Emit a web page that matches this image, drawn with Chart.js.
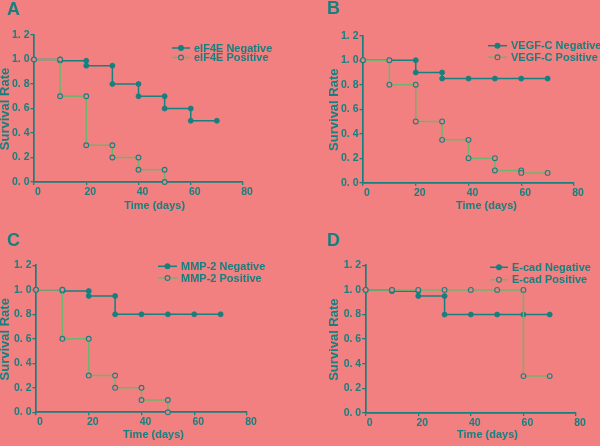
<!DOCTYPE html>
<html><head><meta charset="utf-8">
<script src="https://cdn.jsdelivr.net/npm/chart.js@4.4.0/dist/chart.umd.min.js"></script>
<style>
html,body{margin:0;padding:0;background:#F38080;}
#wrap{position:relative;width:600px;height:446px;overflow:hidden;background:#F38080;}
.panel{position:absolute;width:300px;height:223px;}
</style></head><body>
<div id="wrap">
<div class="panel" style="left:0;top:0"><canvas id="c0"></canvas></div>
<div class="panel" style="left:300px;top:0"><canvas id="c1"></canvas></div>
<div class="panel" style="left:0;top:223px"><canvas id="c2"></canvas></div>
<div class="panel" style="left:300px;top:223px"><canvas id="c3"></canvas></div>
</div>
<script>
// ---- data ----
const panelLetters = ['A', 'B', 'C', 'D'];
const negLabels = ['eIF4E Negative', 'VEGF-C Negative', 'MMP-2 Negative', 'E-cad Negative'];
const posLabels = ['eIF4E Positive', 'VEGF-C Positive', 'MMP-2 Positive', 'E-cad Positive'];
const xTitle = 'Time (days)';
const yTitle = 'Survival Rate';
const xTickValues = [0, 20, 40, 60, 80];
const xTickLabels = ['0', '20', '40', '60', '80'];
const yTickValues = [0, 0.2, 0.4, 0.6, 0.8, 1.0, 1.2];
const yTickLabels = ['0. 0', '0. 2', '0. 4', '0. 6', '0. 8', '1. 0', '1. 2'];

const timeNegA = [0, 10, 10, 20, 20, 30, 30, 40, 40, 50, 50, 60, 60, 70];
const survNegA = [1, 1, 0.99, 0.99, 0.95, 0.95, 0.8, 0.8, 0.7, 0.7, 0.6, 0.6, 0.5, 0.5];
const timePosA = [0, 10, 10, 20, 20, 30, 30, 40, 40, 50, 50];
const survPosA = [1, 1, 0.7, 0.7, 0.3, 0.3, 0.2, 0.2, 0.1, 0.1, 0];

const timeNegB = [0, 10, 20, 20, 30, 30, 40, 50, 60, 70];
const survNegB = [1, 1, 1, 0.9, 0.9, 0.85, 0.85, 0.85, 0.85, 0.85];
const timePosB = [0, 10, 10, 20, 20, 30, 30, 40, 40, 50, 50, 60, 60, 70];
const survPosB = [1, 1, 0.8, 0.8, 0.5, 0.5, 0.35, 0.35, 0.2, 0.2, 0.1, 0.1, 0.08, 0.08];

const timeNegC = [0, 10, 10, 20, 20, 30, 30, 40, 50, 60, 70];
const survNegC = [1, 1, 0.99, 0.99, 0.95, 0.95, 0.8, 0.8, 0.8, 0.8, 0.8];
const timePosC = [0, 10, 10, 20, 20, 30, 30, 40, 40, 50, 50];
const survPosC = [1, 1, 0.6, 0.6, 0.3, 0.3, 0.2, 0.2, 0.1, 0.1, 0];

const timeNegD = [0, 10, 10, 20, 20, 30, 30, 40, 50, 60, 70];
const survNegD = [1, 1, 0.99, 0.99, 0.95, 0.95, 0.8, 0.8, 0.8, 0.8, 0.8];
const timePosD = [0, 10, 20, 30, 40, 50, 60, 60, 70];
const survPosD = [1, 1, 1, 1, 1, 1, 1, 0.3, 0.3];

const negSeries = [[timeNegA, survNegA], [timeNegB, survNegB], [timeNegC, survNegC], [timeNegD, survNegD]];
const posSeries = [[timePosA, survPosA], [timePosB, survPosB], [timePosC, survPosC], [timePosD, survPosD]];

// ---- styles / layout ----
const BG = '#F38080';
const TEAL = '#167F7F';
const GREEN = '#6FB46C';
const FONT = '"Liberation Sans", Arial, Helvetica, sans-serif';
const W = 300, H = 223;
const layouts = [
  {L: 34, R: 243, T: 35, B: 182, yTx: 5, xTx: 154.6, xTy: 205.5, lx1: 172, lx2: 190, ltx: 194, ly: [48, 57.5], letX: 7, letY: 15},
  {L: 63, R: 274, T: 35.7, B: 182.7, yTx: 34.5, xTx: 186.5, xTy: 205.5, lx1: 188, lx2: 207, ltx: 211, ly: [45.7, 57.3], letX: 27, letY: 14},
  {L: 36, R: 247, T: 42.3, B: 189.3, yTx: 5, xTx: 153.5, xTy: 212, lx1: 158, lx2: 177, ltx: 181, ly: [43.3, 55], letX: 7, letY: 23},
  {L: 65.7, R: 276, T: 42.3, B: 190, yTx: 34.5, xTx: 187.5, xTy: 212, lx1: 190, lx2: 208, ltx: 212, ly: [44.3, 56.7], letX: 27, letY: 23}
];

const decor = {
  id: 'decor',
  afterDraw(chart, args, o) {
    const ctx = chart.ctx;
    const ca = chart.chartArea;
    ctx.save();
    ctx.fillStyle = TEAL;
    ctx.font = 'bold 18px ' + FONT;
    ctx.textAlign = 'left';
    ctx.textBaseline = 'alphabetic';
    ctx.fillText(o.letter, o.lay.letX, o.lay.letY);
    // x title
    ctx.font = 'bold 11px ' + FONT;
    ctx.textAlign = 'center';
    ctx.textBaseline = 'middle';
    ctx.fillText(xTitle, o.lay.xTx, o.lay.xTy);
    // y title
    ctx.save();
    ctx.translate(o.lay.yTx, (ca.top + ca.bottom) / 2 + 0.5);
    ctx.rotate(-Math.PI / 2);
    ctx.font = 'bold 13px ' + FONT;
    ctx.fillText(yTitle, 0, 0);
    ctx.restore();
    // legend
    const items = [
      {label: o.neg, line: TEAL, fill: TEAL},
      {label: o.pos, line: GREEN, fill: BG}
    ];
    items.forEach((it, i) => {
      const y = o.lay.ly[i];
      ctx.strokeStyle = it.line;
      ctx.lineWidth = 1.5;
      ctx.beginPath();
      ctx.moveTo(o.lay.lx1, y);
      ctx.lineTo(o.lay.lx2, y);
      ctx.stroke();
      ctx.beginPath();
      ctx.arc((o.lay.lx1 + o.lay.lx2) / 2, y, 2.4, 0, Math.PI * 2);
      ctx.fillStyle = it.fill;
      ctx.fill();
      ctx.strokeStyle = TEAL;
      ctx.lineWidth = 1.1;
      ctx.stroke();
      ctx.fillStyle = TEAL;
      ctx.font = 'bold 11px ' + FONT;
      ctx.textAlign = 'left';
      ctx.textBaseline = 'middle';
      ctx.fillText(it.label, o.lay.ltx, y + 0.5);
    });
    ctx.restore();
  }
};

function toPts(s) { return s[0].map((t, i) => ({x: t, y: s[1][i]})); }

for (let p = 0; p < 4; p++) {
  const lay = layouts[p];
  new Chart(document.getElementById('c' + p), {
    type: 'line',
    data: {
      datasets: [
        {
          label: posLabels[p], data: toPts(posSeries[p]), order: 0,
          borderColor: GREEN, borderWidth: 1.5, pointRadius: 2.4, pointBorderWidth: 1.1,
          pointBackgroundColor: BG, pointBorderColor: TEAL, clip: false, tension: 0
        },
        {
          label: negLabels[p], data: toPts(negSeries[p]), order: 1,
          borderColor: TEAL, borderWidth: 1.5, pointRadius: 2.5, pointBorderWidth: 0.8,
          pointBackgroundColor: TEAL, pointBorderColor: TEAL, clip: false, tension: 0
        }
      ]
    },
    options: {
      responsive: true, maintainAspectRatio: false, animation: false,
      layout: {padding: {left: 0, top: lay.T, right: W - lay.R, bottom: 0}},
      plugins: {
        legend: {display: false}, tooltip: {enabled: false},
        decor: {letter: panelLetters[p], neg: negLabels[p], pos: posLabels[p], lay: lay}
      },
      scales: {
        x: {
          type: 'linear', min: 0, max: 80,
          afterFit: s => { s.height = H - lay.B; },
          afterBuildTicks: s => { s.ticks = xTickValues.map(v => ({value: v})); },
          grid: {drawOnChartArea: false, drawTicks: true, tickLength: 3, color: TEAL, lineWidth: 1.3},
          border: {color: TEAL, width: 1.7},
          ticks: {
            color: TEAL, padding: 1, labelOffset: 4, maxRotation: 0,
            font: {family: FONT, weight: 'bold', size: 10.5},
            callback: (v, i) => xTickLabels[i]
          }
        },
        y: {
          type: 'linear', min: 0, max: 1.2,
          afterFit: s => { s.width = lay.L; },
          afterBuildTicks: s => { s.ticks = yTickValues.map(v => ({value: v})); },
          grid: {drawOnChartArea: false, drawTicks: true, tickLength: 3.5, color: TEAL, lineWidth: 1.3},
          border: {color: TEAL, width: 1.7},
          ticks: {
            color: TEAL, padding: 1,
            font: {family: FONT, weight: 'bold', size: 10.5},
            callback: (v, i) => yTickLabels[i]
          }
        }
      }
    },
    plugins: [decor]
  });
}
</script>
</body></html>
